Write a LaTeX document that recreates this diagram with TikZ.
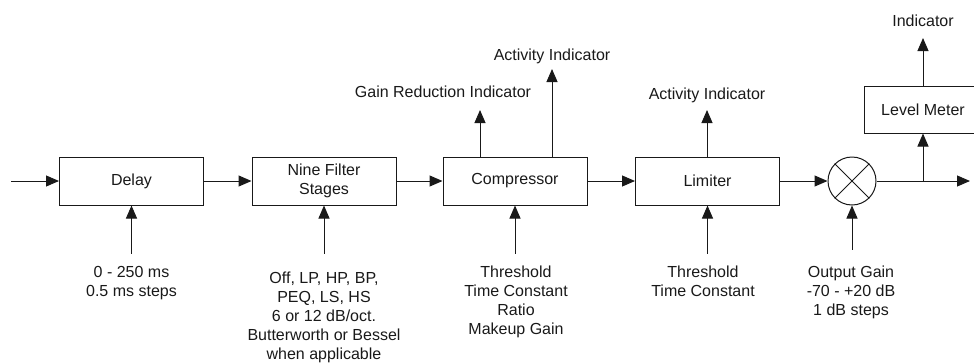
\documentclass[tikz,border=0pt]{standalone}
\usepackage{fontspec}
\setmainfont{Liberation Sans}
\usetikzlibrary{arrows.meta}

\begin{document}
\begin{tikzpicture}[x=1pt, y=-1pt, line width=1pt, black!90,
  >={Triangle[length=13pt,width=11pt]},
  every node/.style={font=\fontsize{16}{19}\selectfont},
  blk/.style={draw, minimum width=144pt, minimum height=48pt, inner sep=0pt},
  lbl/.style={align=center, inner sep=0pt, anchor=north},
  top/.style={inner sep=0pt, anchor=base}]
\useasboundingbox (0,0) rectangle (974,362);
\node [blk] (delay) at (131.5,181) {Delay};
\node [blk, align=center] (filt) at (324,181) {Nine Filter\\Stages};
\node [blk] (comp) at (515,181) {Compressor};
\node [blk] (lim) at (707.5,181) {Limiter};
\node [draw, circle, minimum size=48pt, inner sep=0pt] (mix) at (852,181) {};
\draw (mix.north west) -- (mix.south east) (mix.north east) -- (mix.south west);
\node [blk, minimum width=118pt, minimum height=47pt] (meter) at (923,109.5) {Level Meter};
\coordinate (in) at (11,181);
\coordinate (out) at (970,181);
\coordinate (br) at (923,181);
\draw [->] (in) -- (delay);
\draw [->] (delay) -- (filt);
\draw [->] (filt) -- (comp);
\draw [->] (comp) -- (lim);
\draw [->] (lim) -- (mix);
\draw [->] (mix.east) -- (out);
\draw [->] (br) -- (meter);
\coordinate (grtip) at (480,110);
\coordinate (catip) at (552,69);
\coordinate (latip) at (707,110);
\coordinate (mtip) at (923,38);
\draw [->] (comp.north -| grtip) -- (grtip);
\draw [->] (comp.north -| catip) -- (catip);
\draw [->] (lim.north -| latip) -- (latip);
\draw [->] (meter) -- (mtip);
\node [top] (grl) at (443,97) {Gain Reduction Indicator};
\node [top] (cal) at (552,60) {Activity Indicator};
\node [top] (lal) at (707,99) {Activity Indicator};
\node [top] (ml) at (923,26) {Indicator};
\draw [->] (delay.south) ++(0,48) -- (delay.south);
\draw [->] (filt.south) ++(0,48) -- (filt.south);
\draw [->] (comp.south) ++(0,48) -- (comp.south);
\draw [->] (lim.south) ++(0,48) -- (lim.south);
\draw [->] (mix.south) ++(0,44) -- (mix.south);
\node [lbl] (dl) at (131.5,265.5) {0 - 250 ms\\0.5 ms steps};
\node [lbl] (fl) at (324,271) {Off, LP, HP, BP,\\PEQ, LS, HS\\6 or 12 dB/oct.\\Butterworth or Bessel\\when applicable};
\node [lbl] (cl) at (516,265.5) {Threshold\\Time Constant\\Ratio\\Makeup Gain};
\node [lbl] (ll) at (703,265.5) {Threshold\\Time Constant};
\node [lbl] (ol) at (851,265.5) {Output Gain\\-70 - +20 dB\\1 dB steps};
\end{tikzpicture}
\end{document}
